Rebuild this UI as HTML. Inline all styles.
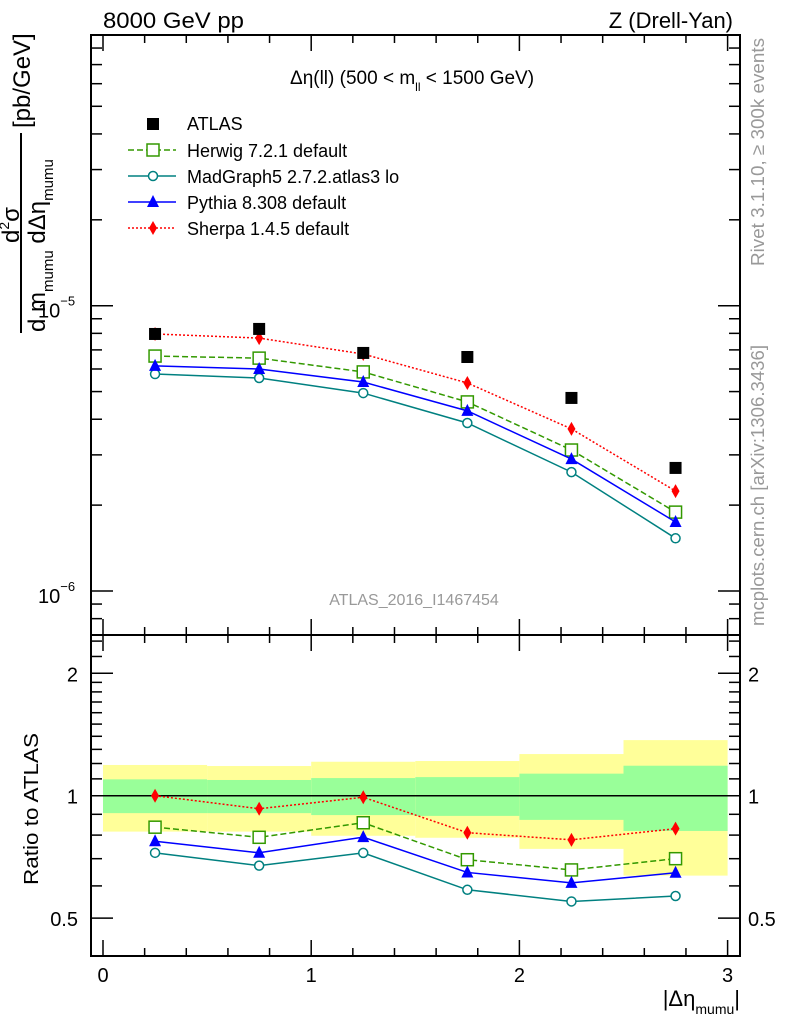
<!DOCTYPE html>
<html><head><meta charset="utf-8"><style>
html,body{margin:0;padding:0;background:#fff;}
svg text{font-family:"Liberation Sans",sans-serif;}
</style></head><body>
<svg id="chart" width="786" height="1024" viewBox="0 0 786 1024" xmlns="http://www.w3.org/2000/svg">
<g id="bands"></g>
<g id="axes"></g>
<g id="series"></g>
<text x="103" y="28" font-size="22" textLength="141" lengthAdjust="spacingAndGlyphs">8000 GeV pp</text>
<text x="733" y="28" font-size="22" text-anchor="end">Z (Drell-Yan)</text>
<text x="290" y="84" font-size="19">Δη(ll) (500 &lt; m<tspan font-size="12" dy="7">ll</tspan><tspan dy="-7"> &lt; 1500 GeV)</tspan></text>
<text x="414" y="605" font-size="16" fill="#999" text-anchor="middle">ATLAS_2016_I1467454</text>
<text transform="translate(764,266) rotate(-90)" font-size="18.5" fill="#999" textLength="228" lengthAdjust="spacingAndGlyphs">Rivet 3.1.10, ≥ 300k events</text>
<text transform="translate(764,626) rotate(-90)" font-size="18.5" fill="#999" textLength="281" lengthAdjust="spacingAndGlyphs">mcplots.cern.ch [arXiv:1306.3436]</text>
<g>
<text transform="translate(19,243) rotate(-90)" font-size="24">d<tspan font-size="14" dy="-10">2</tspan><tspan dy="10">σ</tspan></text>
<line x1="21" y1="333" x2="21" y2="133" stroke="#000" stroke-width="2"/>
<text transform="translate(45,332) rotate(-90)" font-size="24">d m<tspan font-size="15" dy="8">mumu</tspan><tspan dy="-8"> dΔη</tspan><tspan font-size="15" dy="8">mumu</tspan></text>
<text transform="translate(30,128) rotate(-90)" font-size="24">[pb/GeV]</text>
</g>
<text transform="translate(38,885) rotate(-90)" font-size="20" textLength="152" lengthAdjust="spacingAndGlyphs">Ratio to ATLAS</text>
<text x="740" y="1006" font-size="22" text-anchor="end">|Δη<tspan font-size="14" dy="8">mumu</tspan><tspan dy="-8">|</tspan></text>
<g id="legend"></g>
</svg>
<script>
const binLo = [0, 0.5, 1, 1.5, 2, 2.5];
const binHi = [0.5, 1, 1.5, 2, 2.5, 3];
const xCenters = [0.25, 0.75, 1.25, 1.75, 2.25, 2.75];
const atlas = [7.96e-6, 8.29e-6, 6.83e-6, 6.61e-6, 4.75e-6, 2.70e-6];
const herwig = [6.66e-6, 6.55e-6, 5.86e-6, 4.60e-6, 3.12e-6, 1.89e-6];
const madgraph = [5.76e-6, 5.58e-6, 4.94e-6, 3.88e-6, 2.61e-6, 1.53e-6];
const pythia = [6.15e-6, 6.00e-6, 5.40e-6, 4.28e-6, 2.90e-6, 1.745e-6];
const sherpa = [7.96e-6, 7.70e-6, 6.77e-6, 5.36e-6, 3.70e-6, 2.24e-6];
const statUp = [1.097, 1.093, 1.105, 1.111, 1.133, 1.185];
const statDn = [0.906, 0.906, 0.896, 0.892, 0.872, 0.819];
const totUp = [1.19, 1.183, 1.212, 1.217, 1.266, 1.37];
const totDn = [0.816, 0.816, 0.797, 0.788, 0.74, 0.636];
const xTicks = [0, 1, 2, 3];
const ratioTicks = [0.5, 1, 2];

const NS = "http://www.w3.org/2000/svg";
const L = 91, R = 740, T = 35, MID = 635, B = 956;
const X = v => 103 + 208.2 * v;
const Y = v => 305.7 - 285.3 * (Math.log10(v) + 5);
const YR = r => 795.7 - 122.4 * Math.log2(r);
function mk(tag, attrs, parent) {
  const e = document.createElementNS(NS, tag);
  for (const k in attrs) e.setAttribute(k, attrs[k]);
  parent.appendChild(e);
  return e;
}
const axes = document.getElementById('axes');
const bands = document.getElementById('bands');
const ser = document.getElementById('series');
const leg = document.getElementById('legend');

for (let i = 0; i < binLo.length; i++) {
  const y = mk('rect', {x: X(binLo[i]), y: YR(totUp[i]), width: X(binHi[i]) - X(binLo[i]), height: YR(totDn[i]) - YR(totUp[i]), fill: '#ffff99'}, bands);
  
  
  const g = mk('rect', {x: X(binLo[i]), y: YR(statUp[i]), width: X(binHi[i]) - X(binLo[i]), height: YR(statDn[i]) - YR(statUp[i]), fill: '#99ff99'}, bands);
  
  
}
mk('line', {x1: L, x2: R, y1: YR(1), y2: YR(1), stroke: '#000', 'stroke-width': 1.5}, axes);

mk('rect', {x: L, y: T, width: R - L, height: MID - T, fill: 'none', stroke: '#000', 'stroke-width': 2}, axes);
mk('rect', {x: L, y: MID, width: R - L, height: B - MID, fill: 'none', stroke: '#000', 'stroke-width': 2}, axes);

for (let k = 0; k <= 15; k++) {
  const v = k * 0.2, x = X(v);
  const major = Math.abs(v - Math.round(v)) < 1e-6;
  const len = major ? 16 : 8;
  [[T, 1], [MID, -1], [MID, 1], [B, -1]].forEach(([y0, d]) => {
    mk('line', {x1: x, x2: x, y1: y0, y2: y0 + d * len, stroke: '#000', 'stroke-width': 1.5}, axes);
  });
}
xTicks.forEach(v => {
  const t = mk('text', {x: X(v), y: 982, 'font-size': 20, 'text-anchor': 'middle'}, axes);
  t.textContent = v;
  
  
});
for (let e = -7; e <= -5; e++) {
  for (let m = 1; m <= 9; m++) {
    const v = m * Math.pow(10, e), y = Y(v);
    if (y < T || y > MID) continue;
    const len = m === 1 ? 22 : 11;
    mk('line', {x1: L, x2: L + len, y1: y, y2: y, stroke: '#000', 'stroke-width': 1.5}, axes);
    mk('line', {x1: R, x2: R - len, y1: y, y2: y, stroke: '#000', 'stroke-width': 1.5}, axes);
  }
}
[[-5], [-6]].forEach(([e]) => {
  const t = mk('text', {x: 38, y: Y(Math.pow(10, e)) + 12, 'font-size': 20}, axes);
  t.innerHTML = '10<tspan font-size="13" dy="-12">' + e.toString().replace('-', '−') + '</tspan>';
  
  
});
const rminor = [0.5, 0.6, 0.7, 0.8, 0.9, 1, 1.1, 1.2, 1.3, 1.4, 1.5, 1.6, 1.7, 1.8, 1.9, 2, 2.2, 2.4];
rminor.forEach(v => {
  const y = YR(v), len = ratioTicks.includes(v) ? 22 : 11;
  mk('line', {x1: L, x2: L + len, y1: y, y2: y, stroke: '#000', 'stroke-width': 1.5}, axes);
  mk('line', {x1: R, x2: R - len, y1: y, y2: y, stroke: '#000', 'stroke-width': 1.5}, axes);
});
ratioTicks.forEach(v => {
  const t1 = mk('text', {x: 78, y: YR(v) + 8, 'font-size': 20, 'text-anchor': 'end'}, axes);
  t1.textContent = v;
  
  
  const t2 = mk('text', {x: 748, y: YR(v) + 8, 'font-size': 20}, axes);
  t2.textContent = v;
  
  
});

function marker(type, x, y, color, parent) {
  let e;
  if (type === 'sq') e = mk('rect', {x: x - 6, y: y - 6, width: 12, height: 12, fill: '#000'}, parent);
  if (type === 'osq') e = mk('rect', {x: x - 6, y: y - 6, width: 12, height: 12, fill: '#fff', stroke: color, 'stroke-width': 1.5}, parent);
  if (type === 'circ') e = mk('circle', {cx: x, cy: y, r: 4.5, fill: '#fff', stroke: color, 'stroke-width': 1.5}, parent);
  if (type === 'tri') e = mk('polygon', {points: `${x},${y - 7} ${x - 6},${y + 5} ${x + 6},${y + 5}`, fill: color}, parent);
  if (type === 'dia') e = mk('polygon', {points: `${x},${y - 7} ${x - 4},${y} ${x},${y + 7} ${x + 4},${y}`, fill: color}, parent);
  return e;
}
const mcs = [
  {name: 'herwig', vals: herwig, color: '#339900', dash: '6,3', m: 'osq', label: 'Herwig 7.2.1 default'},
  {name: 'madgraph', vals: madgraph, color: '#008080', dash: '', m: 'circ', label: 'MadGraph5 2.7.2.atlas3 lo'},
  {name: 'pythia', vals: pythia, color: '#0000ff', dash: '', m: 'tri', label: 'Pythia 8.308 default'},
  {name: 'sherpa', vals: sherpa, color: '#ff0000', dash: '2,2', m: 'dia', label: 'Sherpa 1.4.5 default'}
];
mcs.forEach(s => {
  const pts = s.vals.map((v, i) => X(xCenters[i]) + ',' + Y(v)).join(' ');
  const l = mk('polyline', {points: pts, fill: 'none', stroke: s.color, 'stroke-width': 1.5, 'stroke-dasharray': s.dash}, ser);
  
  
  const rp = s.vals.map((v, i) => X(xCenters[i]) + ',' + YR(v / atlas[i])).join(' ');
  const rl = mk('polyline', {points: rp, fill: 'none', stroke: s.color, 'stroke-width': 1.5, 'stroke-dasharray': s.dash}, ser);
  
  
  s.vals.forEach((v, i) => {
    const p = marker(s.m, X(xCenters[i]), Y(v), s.color, ser);
    
    
    const q = marker(s.m, X(xCenters[i]), YR(v / atlas[i]), s.color, ser);
    
    
  });
});
atlas.forEach((v, i) => {
  const p = marker('sq', X(xCenters[i]), Y(v), '#000', ser);
  
  
});
const lm = marker('sq', 153, 124, '#000', leg);


const lt = mk('text', {x: 187, y: 130, 'font-size': 18}, leg);
lt.textContent = 'ATLAS';


mcs.forEach((s, k) => {
  const y = 150 + 26 * k;
  const ln = mk('line', {x1: 128, x2: 176, y1: y, y2: y, stroke: s.color, 'stroke-width': 1.5, 'stroke-dasharray': s.dash}, leg);
  
  
  const m = marker(s.m, 153, y, s.color, leg);
  
  
  const t = mk('text', {x: 187, y: y + 7, 'font-size': 18}, leg);
  t.textContent = s.label;
  
  
});
</script>
</body></html>
